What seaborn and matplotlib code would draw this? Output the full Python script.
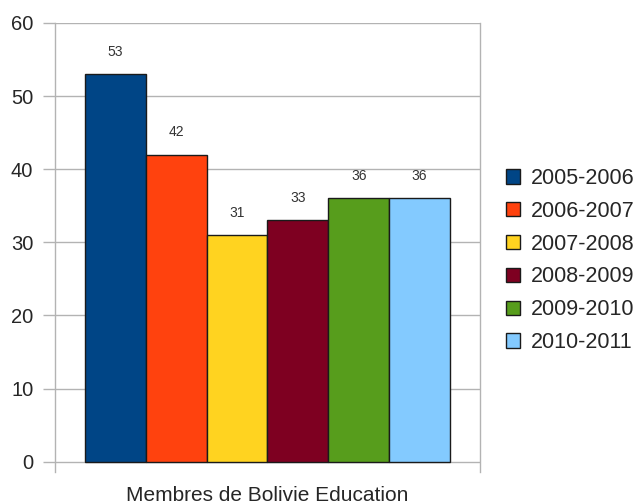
import pandas as pd
import seaborn as sns
import matplotlib.pyplot as plt

category = ["Membres de Bolivie Education"]
years = ["2005-2006", "2006-2007", "2007-2008", "2008-2009", "2009-2010", "2010-2011"]
members = [53, 42, 31, 33, 36, 36]
colors = ["#004586", "#ff420e", "#ffd320", "#7e0021", "#579d1c", "#83caff"]

df = pd.DataFrame({"cat": category * len(years), "year": years, "value": members})

sns.set_style("white")
plt.rcParams["font.family"] = ["Liberation Sans", "DejaVu Sans"]

fig = plt.figure(figsize=(6.37, 5.04), dpi=100)
ax = fig.add_axes([0.0863, 0.0635, 0.6672, 0.891])

sns.barplot(data=df, x="cat", y="value", hue="year", palette=colors, saturation=1,
            edgecolor="#1a1a1a", linewidth=1, ax=ax, legend=True)

for cont in ax.containers:
    ax.bar_label(cont, padding=11, fontsize=10, color="#333333")

ax.set_ylim(-1.4, 60)
ax.set_xlim(-0.466, 0.466)
ax.set_yticks(range(0, 61, 10))
ax.yaxis.grid(True, color="#b3b3b3", linewidth=1)
ax.set_axisbelow(True)
ax.tick_params(axis="y", direction="out", length=8.6, color="#b3b3b3",
               width=1, pad=7, labelsize=14.5, left=True)
ax.tick_params(axis="x", length=0, pad=10, labelsize=15)
ax.set_xlabel("")
ax.set_ylabel("")
for side in ["top", "bottom"]:
    ax.spines[side].set_visible(False)
for side in ["left", "right"]:
    ax.spines[side].set_color("#b3b3b3")
    ax.spines[side].set_linewidth(1)

handles, labels = ax.get_legend_handles_labels()
ax.legend(handles, labels, loc="center left", bbox_to_anchor=(0.781, 0.483),
          bbox_transform=fig.transFigure, frameon=False, fontsize=15.5,
          handlelength=0.65, handleheight=0.65, handletextpad=0.5,
          labelspacing=0.55, borderaxespad=0)

fig.savefig("out.png", dpi=100)
